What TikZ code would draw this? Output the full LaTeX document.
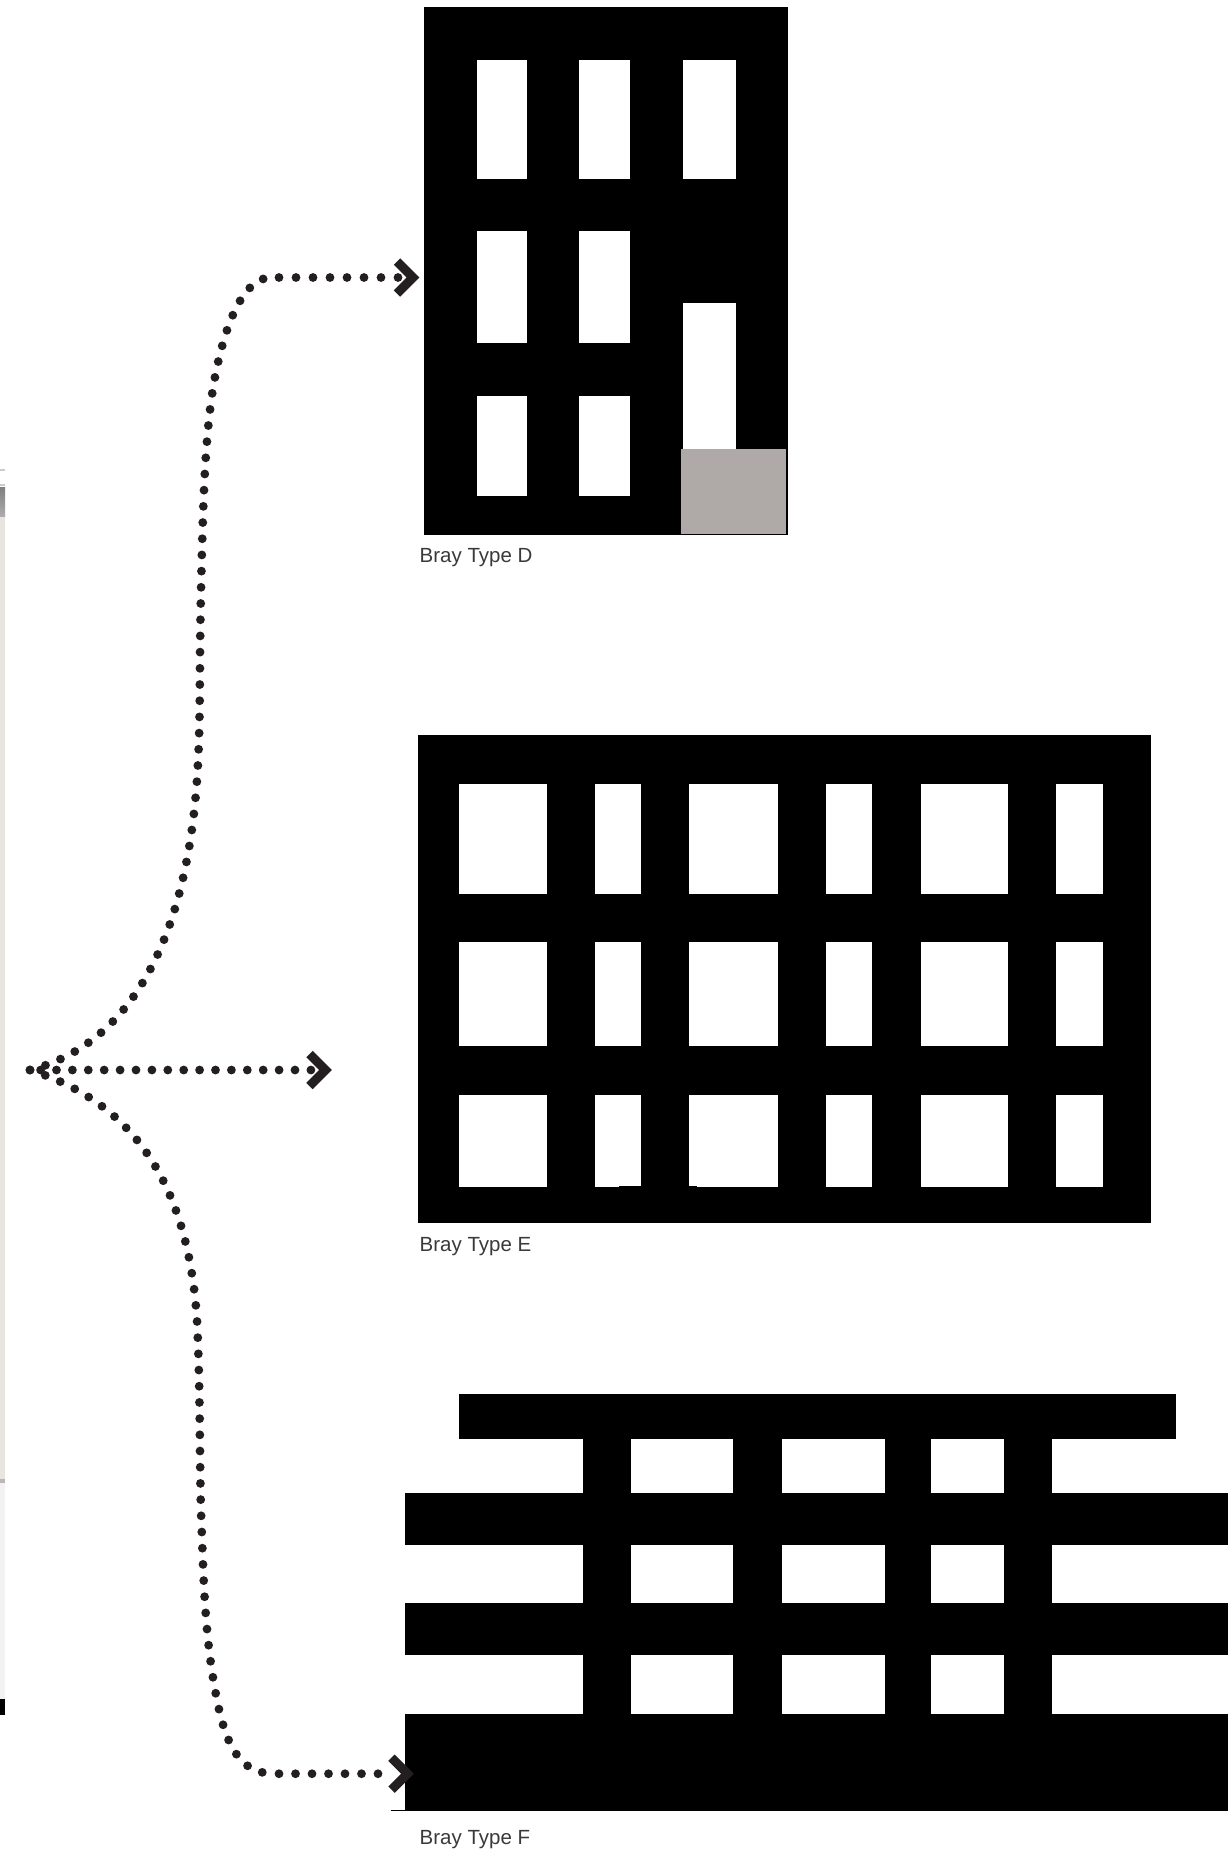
\documentclass[tikz,border=0pt]{standalone}
\usepackage{fontspec}
\setmainfont{Liberation Sans}
\usetikzlibrary{calc}
\definecolor{ink}{HTML}{231F20}
\definecolor{capt}{HTML}{3A3A3C}
\definecolor{stone}{HTML}{AFAAA8}
\definecolor{strip}{HTML}{E8E5E1}
\tikzset{
  block/.style={fill=black,inner sep=0pt,outer sep=0pt,anchor=north west},
  win/.style={fill=white},
  dots/.style={draw=ink,line width=8.8pt,line cap=round,dash pattern=on 0pt off #1},
  dots/.default=16.2pt,
  chev/.style={draw=ink,line width=9pt,line cap=butt,line join=miter,miter limit=10},
  capn/.style={anchor=base west,inner sep=0pt,text=capt,font=\fontsize{20.5}{24}\selectfont}
}
\begin{document}
\begin{tikzpicture}[x=1pt,y=-1pt]
\useasboundingbox (0,0) rectangle (1228,1853);
\fill[white] (0,0) rectangle (1228,1853);
% left strip
\fill[black!20] (0,469) rectangle (5,471);
\fill[black!20] (0,484) rectangle (5,486);
\shade[top color=black!50,bottom color=black!32] (0,487) rectangle (5,517);
\fill[strip] (0,517) rectangle (5,1479);
\fill[black!28] (0,1479) rectangle (5,1483);
\fill[black!5] (0,1483) rectangle (5,1699);
\fill[black] (0,1699) rectangle (5,1715);
% Type D
\node[block,minimum width=364.3pt,minimum height=528pt] (typeD) at (423.7,7) {};
\foreach \xa/\xb in {476.5/526.7,578.7/629.7,682.7/735.7}{\fill[win] (\xa,60) rectangle (\xb,178.5);}
\foreach \xa/\xb in {476.5/526.7,578.7/629.7}{
  \fill[win] (\xa,230.5) rectangle (\xb,343);
  \fill[win] (\xa,396) rectangle (\xb,495.7);
}
\fill[win] (682.7,302.5) rectangle (735.7,534);
\fill[stone] (681,449) rectangle (786,534);
\node[capn] (capD) at (419.5,562.7) {Bray Type D};
% Type E
\node[block,minimum width=732.7pt,minimum height=487.7pt] (typeE) at (418.3,735) {};
\foreach \xa/\xb in {458.6/547,594.5/641,689/778,826/872,920.7/1008,1055.5/1102.7}{
  \fill[win] (\xa,783.6) rectangle (\xb,894);
  \fill[win] (\xa,942) rectangle (\xb,1046);
  \fill[win] (\xa,1095.2) rectangle (\xb,1186.7);
}
\fill[black] (619,1185.7) rectangle (641,1187);
\fill[black] (689,1185.7) rectangle (696.7,1187);
\node[capn] (capE) at (419.5,1251) {Bray Type E};
% Type F
\node[block,minimum width=717.4pt,minimum height=45pt] (roofF) at (458.6,1394) {};
\foreach \ya/\yb in {1493/1545,1603/1655}{\fill[black] (404.7,\ya) rectangle (1228,\yb);}
\node[block,minimum width=823.3pt,minimum height=96.5pt] (typeF) at (404.7,1714) {};
\foreach \xa/\xb in {583/630.5,733/781.5,884.5/931,1004/1052}{\fill[black] (\xa,1439) rectangle (\xb,1714);}
\draw[black,line width=1pt] (390.5,1810.5) -- (typeF.south west);
\node[capn] (capF) at (419.5,1844) {Bray Type F};
% connector ends
\coordinate (hub) at (30,1070);
\coordinate (hubmid) at (40.6,1070);
\coordinate (upjoin) at (279,277.5);
\coordinate (lowjoin) at (279,1773.7);
\coordinate (endD) at (398.5,277.5);
\coordinate (endE) at (311,1070);
\coordinate (endF) at (394.5,1773.7);
\coordinate (tipD) at (413,277.5);
\coordinate (tipE) at (325.5,1070);
\coordinate (tipF) at (407.5,1773.7);
% connectors
\draw[dots] (hub) .. controls (115,1048) and (184,965) .. (197,780)
  .. controls (201,720) and (199,680) .. (201,591)
  .. controls (203,500) and (205,440) .. (213,388)
  .. controls (222,335) and (240,277) .. (272,277.5);
\draw[dots=17pt] (upjoin) -- (endD);
\draw[dots=15.9pt] (hubmid) -- (endE);
\draw[dots] (hub) .. controls (118,1098) and (187,1165) .. (197,1320)
  .. controls (201,1400) and (199,1480) .. (202,1536)
  .. controls (204,1600) and (207,1650) .. (217,1700)
  .. controls (226,1745) and (240,1773) .. (272,1773.5);
\draw[dots=16.5pt] (lowjoin) -- (endF);
\draw[chev] ($(tipD)+(-16,-16)$) -- (tipD) -- ($(tipD)+(-16,16)$);
\draw[chev] ($(tipE)+(-16,-16)$) -- (tipE) -- ($(tipE)+(-16,16)$);
\draw[chev] ($(tipF)+(-16,-16)$) -- (tipF) -- ($(tipF)+(-16,16)$);
\end{tikzpicture}
\end{document}
